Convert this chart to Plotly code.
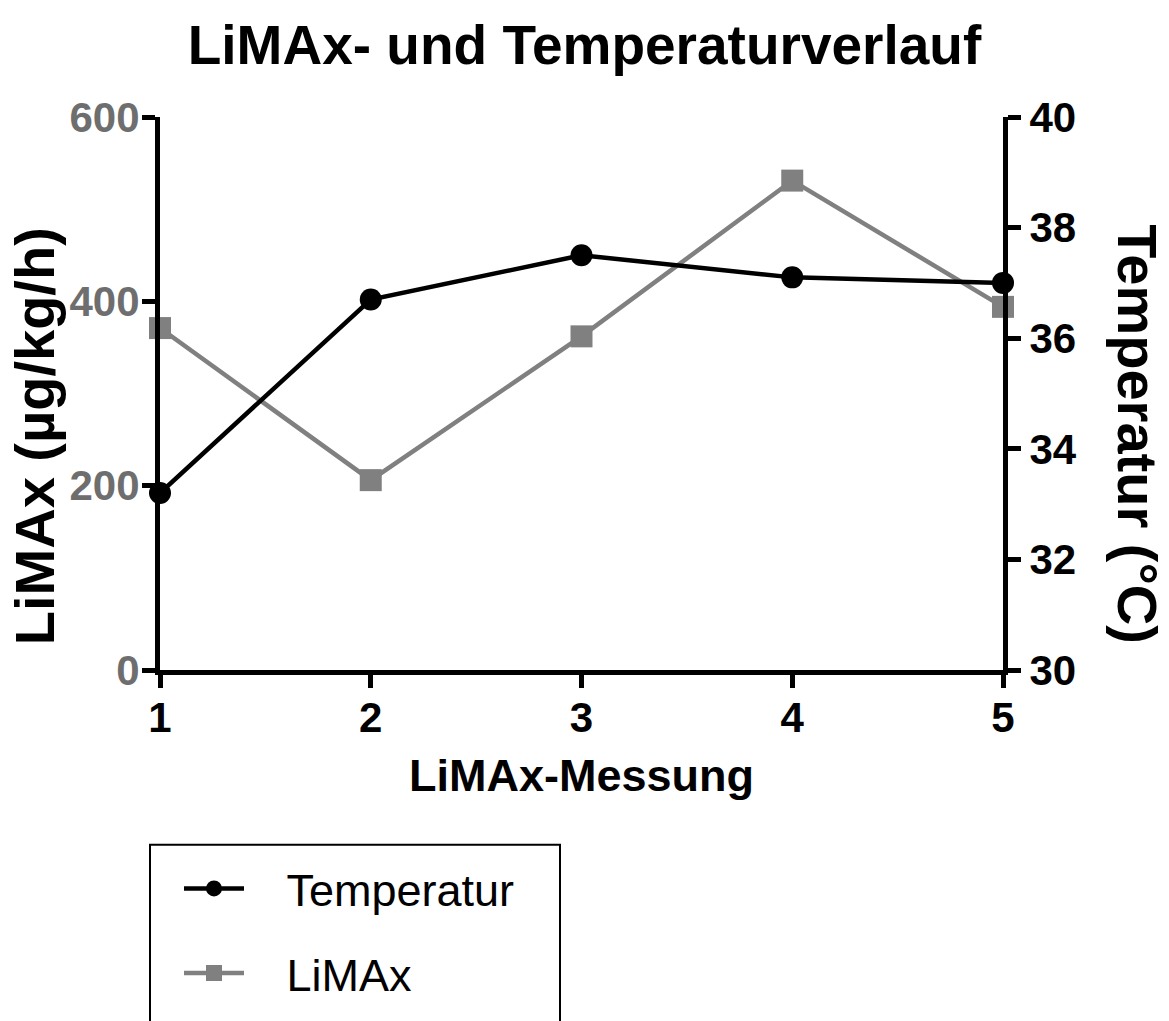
import plotly.graph_objects as go

messung = [1, 2, 3, 4, 5]
limax = [371, 206, 362, 531, 394]
temperatur = [33.2, 36.7, 37.5, 37.1, 37.0]

grey = "#808080"
font = "Liberation Sans, Arial, sans-serif"

W, H = 1169, 1021
L, R, T, B = 160, 1003, 117, 680   # plot area edges in px


def px_x(p):
    return (p - L) / (R - L)


def px_y(p):
    return (B - p) / (B - T)


fig = go.Figure()

fig.add_trace(
    go.Scatter(
        x=messung, y=limax, name="\u00a0\u00a0\u00a0LiMAx",
        mode="lines+markers",
        line=dict(color=grey, width=4.5),
        marker=dict(symbol="square", size=22, color=grey),
        cliponaxis=False, legendgroup="b", legendrank=2,
    )
)
fig.add_trace(
    go.Scatter(
        x=messung, y=temperatur, name="\u00a0\u00a0\u00a0Temperatur",
        mode="lines+markers",
        line=dict(color="black", width=4.5),
        marker=dict(symbol="circle", size=22, color="black"),
        yaxis="y2", cliponaxis=False, legendgroup="a", legendrank=1,
    )
)

axis_common = dict(
    showline=True, linecolor="black", linewidth=5,
    ticks="outside", ticklen=13, tickwidth=5, tickcolor="black",
    showgrid=False, zeroline=False, automargin=False,
)

fig.update_layout(
    width=W, height=H,
    margin=dict(l=L, r=W - R, t=T, b=H - B),
    paper_bgcolor="white", plot_bgcolor="white",
    font=dict(family=font, color="black"),
    title=dict(
        text="<b>LiMAx- und Temperaturverlauf</b>",
        x=0.5, xanchor="center", y=1 - 45 / H, yanchor="middle",
        font=dict(size=55, family=font, color="black"),
    ),
    xaxis=dict(
        range=[1, 5], tickvals=messung, **axis_common,
        tickfont=dict(size=42, family=font, color="black", weight="bold"),
        ticklabelstandoff=-6,
    ),
    yaxis=dict(
        range=[0, 600], dtick=200, **axis_common,
        tickfont=dict(size=42, family=font, color="#6e6e6e", weight="bold"),
        ticklabelstandoff=-6,
    ),
    yaxis2=dict(
        range=[30, 40], dtick=2, overlaying="y", side="right", **axis_common,
        tickfont=dict(size=42, family=font, color="black", weight="bold"),
    ),
    showlegend=True,
    legend=dict(
        x=px_x(179), xanchor="left", y=px_y(866), yanchor="top",
        bgcolor="rgba(0,0,0,0)", borderwidth=0,
        font=dict(size=45, family=font, color="black"),
        tracegroupgap=23, itemwidth=60,
    ),
    shapes=[
        dict(
            type="rect", xref="paper", yref="paper",
            x0=px_x(150), x1=px_x(560), y0=px_y(1100), y1=px_y(858),
            line=dict(color="black", width=2), fillcolor="rgba(0,0,0,0)",
        )
    ],
)

fig.add_annotation(
    text="<b>LiMAx-Messung</b>", xref="paper", yref="paper",
    x=0.5, y=px_y(787), xanchor="center", yanchor="middle",
    showarrow=False, font=dict(size=45, family=font, color="black"),
)
fig.add_annotation(
    text="<b>LiMAx (µg/kg/h)</b>", xref="paper", yref="paper",
    x=px_x(34), y=px_y(442), xanchor="center", yanchor="middle",
    textangle=-90, showarrow=False,
    font=dict(size=56, family=font, color="black"),
)
fig.add_annotation(
    text="<b>Temperatur (°C)</b>", xref="paper", yref="paper",
    x=px_x(1138), y=px_y(440), xanchor="center", yanchor="middle",
    textangle=90, showarrow=False,
    font=dict(size=56, family=font, color="black"),
)

page_fix = (
    "document.documentElement.style.margin = '0';"
    "document.documentElement.style.overflow = 'hidden';"
    "document.body.style.margin = '0';"
    "document.body.style.overflow = 'hidden';"
)
fig.write_html(
    "out.html", config={"displayModeBar": False}, post_script=page_fix
)
